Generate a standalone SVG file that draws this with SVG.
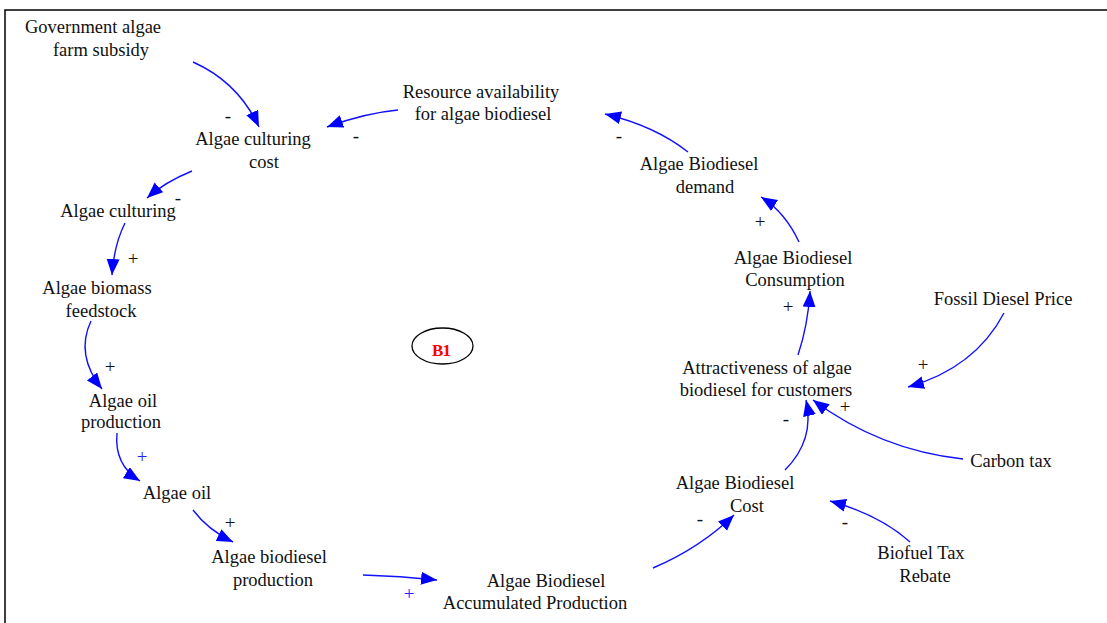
<svg xmlns="http://www.w3.org/2000/svg" width="1107" height="623" viewBox="0 0 1107 623">
  <style>
    .lbl { font-family: "Liberation Serif", "Times New Roman", serif; font-size: 18.5px; fill: #111; text-anchor: middle; }
    .sgn { font-family: "Liberation Serif", "Times New Roman", serif; font-size: 19px; fill: #111; text-anchor: middle; }
    .sgn.blue { fill: #2222ff; }
    .link { fill: none; stroke: #1010ff; stroke-width: 1.4; marker-end: url(#head); }
  </style>
  <defs>
    <marker id="head" markerUnits="userSpaceOnUse" markerWidth="18" markerHeight="14" refX="16" refY="6.5" orient="auto">
      <path d="M0,0 L16,6.5 L0,13 z" fill="#0000ff"/>
    </marker>
  </defs>

  <rect x="0" y="0" width="1107" height="623" fill="#fff"/>
  <!-- frame -->
  <rect x="5" y="10" width="1200" height="700" fill="none" stroke="#000" stroke-width="1.5"/>

  <!-- links -->
  <g id="connectors">
    <path class="link" d="M193,62 Q238,82 259,127"/>
    <path class="link" d="M398,110 Q365,113 327,127"/>
    <path class="link" d="M688,152 Q655,126 605,114"/>
    <path class="link" d="M799,242 Q785,212 761,197"/>
    <path class="link" d="M798,355 Q808,325 810,291"/>
    <path class="link" d="M1004,313 Q975,368 908,387"/>
    <path class="link" d="M963,459 Q880,450 813,400"/>
    <path class="link" d="M785,470 Q815,440 806,400"/>
    <path class="link" d="M910,542 Q880,515 830,501"/>
    <path class="link" d="M653,568 Q700,548 734,515"/>
    <path class="link" d="M363,575 Q400,576 437,580"/>
    <path class="link" d="M193,510 Q208,530 233,542"/>
    <path class="link" d="M117,433 Q114,465 140,481"/>
    <path class="link" d="M91,321 Q75,355 102,389"/>
    <path class="link" d="M125,223 Q114,245 112,275"/>
    <path class="link" d="M192,171 Q165,182 147,198"/>

    <!-- polarities -->
    <text class="sgn" x="228" y="122">-</text>
    <text class="sgn" x="356" y="142">-</text>
    <text class="sgn" x="619" y="142">-</text>
    <text class="sgn" x="760" y="228">+</text>
    <text class="sgn" x="788" y="313">+</text>
    <text class="sgn" x="923" y="371">+</text>
    <text class="sgn" x="845" y="413">+</text>
    <text class="sgn" x="786" y="425">-</text>
    <text class="sgn" x="845" y="528">-</text>
    <text class="sgn" x="700" y="525">-</text>
    <text class="sgn blue" x="409" y="600">+</text>
    <text class="sgn" x="230" y="529">+</text>
    <text class="sgn blue" x="142" y="463">+</text>
    <text class="sgn" x="110" y="373">+</text>
    <text class="sgn" x="133" y="265">+</text>
    <text class="sgn" x="178" y="204">-</text>
  </g>

  <g id="subsidy">
    <text class="lbl" x="93" y="33">Government algae</text>
    <text class="lbl" x="101" y="56">farm subsidy</text>
  </g>
  <g id="culturing-cost">
    <text class="lbl" x="253" y="145">Algae culturing</text>
    <text class="lbl" x="264" y="168">cost</text>
  </g>
  <g id="resource">
    <text class="lbl" x="481" y="98">Resource availability</text>
    <text class="lbl" x="483" y="120">for algae biodiesel</text>
  </g>
  <g id="demand">
    <text class="lbl" x="699" y="170">Algae Biodiesel</text>
    <text class="lbl" x="705" y="193">demand</text>
  </g>
  <g id="culturing">
    <text class="lbl" x="118" y="217">Algae culturing</text>
  </g>
  <g id="biomass">
    <text class="lbl" x="97" y="294">Algae biomass</text>
    <text class="lbl" x="101" y="317">feedstock</text>
  </g>
  <g id="oil-production">
    <text class="lbl" x="123" y="407">Algae oil</text>
    <text class="lbl" x="121" y="428">production</text>
  </g>
  <g id="oil">
    <text class="lbl" x="177" y="499">Algae oil</text>
  </g>
  <g id="biodiesel-production">
    <text class="lbl" x="269" y="563">Algae biodiesel</text>
    <text class="lbl" x="273" y="586">production</text>
  </g>
  <g id="accumulated">
    <text class="lbl" x="546" y="587">Algae Biodiesel</text>
    <text class="lbl" x="535" y="609">Accumulated Production</text>
  </g>
  <g id="cost">
    <text class="lbl" x="735" y="489">Algae Biodiesel</text>
    <text class="lbl" x="747" y="512">Cost</text>
  </g>
  <g id="rebate">
    <text class="lbl" x="921" y="559">Biofuel Tax</text>
    <text class="lbl" x="925" y="582">Rebate</text>
  </g>
  <g id="carbon-tax">
    <text class="lbl" x="1011" y="467">Carbon tax</text>
  </g>
  <g id="attractiveness">
    <text class="lbl" x="767" y="374">Attractiveness of algae</text>
    <text class="lbl" x="766" y="396">biodiesel for customers</text>
  </g>
  <g id="fossil-price">
    <text class="lbl" x="1003" y="305">Fossil Diesel Price</text>
  </g>
  <g id="consumption">
    <text class="lbl" x="793" y="264">Algae Biodiesel</text>
    <text class="lbl" x="795" y="286">Consumption</text>
  </g>
  <g id="loop-b1">
    <ellipse cx="442.5" cy="346" rx="30.5" ry="18" fill="none" stroke="#000" stroke-width="1.3"/>
    <text x="441" y="356" font-family="'Liberation Serif', serif" font-size="17" font-weight="bold" fill="#ff0000" text-anchor="middle" letter-spacing="-1">B1</text>
  </g>
</svg>
